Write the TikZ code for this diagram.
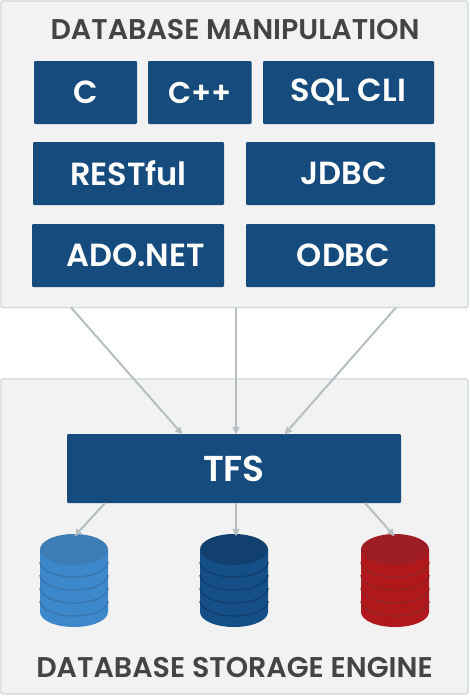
\documentclass[tikz,border=0pt]{standalone}
\usepackage{fontspec}
\setmainfont{Poppins}[BoldFont={Poppins SemiBold}]
\usepackage{tikz}
\usetikzlibrary{arrows.meta, calc}

\definecolor{panelfill}{HTML}{F2F2F2}
\definecolor{panelline}{HTML}{D0D7DB}
\definecolor{boxblue}{HTML}{164B7D}
\definecolor{arrowgray}{HTML}{B5BFC1}
\definecolor{titlegray}{HTML}{444444}

\begin{document}
\begin{tikzpicture}[
    x=1pt, y=-1pt,
    panel/.style={draw=panelline, line width=1.2pt, fill=panelfill, rounded corners=1.5pt, minimum width=467pt, inner sep=0pt},
    title/.style={text=titlegray, font=\fontsize{28.5}{34}\selectfont\bfseries, inner sep=0pt},
    langbox/.style={fill=boxblue, text=white, rounded corners=1.2pt, minimum height=63pt, inner sep=0pt, font=\fontsize{32}{38}\selectfont\bfseries},
    arrow/.style={-{Latex[length=8pt, width=8pt]}, line width=2pt, arrowgray},
]
\useasboundingbox (0,0) rectangle (469,696);

% panels
\node[panel, minimum height=306.5pt] (manip) at (234.5,154.25) {};
\node[panel, minimum height=315pt] (storage) at (234.5,536.5) {};

\node[title] (manip_title) at (235,30) {DATABASE MANIPULATION};
\node[title] (storage_title) at (234.5,667.5) {DATABASE STORAGE ENGINE};

% language boxes
\node[langbox, minimum width=103pt] (c) at (85.5,92.5) {C\hspace{4pt}};
\node[langbox, minimum width=103.5pt, font=\fontsize{30}{36}\selectfont\bfseries] (cpp) at (199.75,92.5) {C++\hspace{3.5pt}};
\node[langbox, minimum width=171pt] (sqlcli) at (348.5,92.5) {SQL CLI};
\node[langbox, minimum width=191pt] (restful) at (128.5,173.5) {RESTful\hspace{7pt}};
\node[langbox, minimum width=189pt] (jdbc) at (340.5,173.5) {\hspace{6pt}JDBC};
\node[langbox, minimum width=192pt] (adonet) at (128,255.5) {\hspace{15pt}ADO.NET};
\node[langbox, minimum width=189pt] (odbc) at (340.5,255.5) {\hspace{6pt}ODBC};

\node[langbox, minimum width=334pt, minimum height=69pt, font=\fontsize{36}{42}\selectfont\bfseries] (tfs) at (234,468.5) {TFS};

% databases
\foreach \dbname/\x/\cbody/\ctop/\cline in {dbleft/74/3D87CB/3C7DB5/3A74A8, dbmid/234/154F88/11406F/113D6A, dbright/395/B0181C/9E1D22/8F2226}{
    \definecolor{cbody}{HTML}{\cbody}
    \definecolor{ctop}{HTML}{\ctop}
    \definecolor{cline}{HTML}{\cline}
    \fill[cbody] (\x-34,549) -- (\x-34,612) arc[start angle=180, end angle=360, x radius=34, y radius=-15] -- (\x+34,549) -- cycle;
    \foreach \yy in {562,575,588,601}{
        \draw[cline, line width=1.3pt] (\x-34,\yy) arc[start angle=180, end angle=360, x radius=34, y radius=-15];
    }
    \fill[ctop] (\x,549.5) ellipse[x radius=34, y radius=15.5];
    \node[minimum width=68pt, minimum height=93pt, inner sep=0pt] (\dbname) at (\x,580.5) {};
}

% edges top
\coordinate (manip_l) at (71,307.5);
\coordinate (manip_r) at (396,307.5);
\coordinate (tfs_l) at (183,435);
\coordinate (tfs_m) at (236,435);
\coordinate (tfs_r) at (284,435);
\draw[arrow] (manip_l) -- (tfs_l);
\draw[arrow] (manip.south -| tfs_m) -- (tfs_m);
\draw[arrow] (manip_r) -- (tfs_r);

% edges bottom
\coordinate (tfs_bl) at (105,503);
\coordinate (tfs_bm) at (236,503);
\coordinate (tfs_br) at (365,503);
\draw[arrow] (tfs_bl) -- ([yshift=-3pt]dbleft.north);
\draw[arrow] (tfs_bm) -- ([yshift=-3pt]tfs_bm |- dbmid.north);
\draw[arrow] (tfs_br) -- ([yshift=-3pt]dbright.north);

\end{tikzpicture}
\end{document}
